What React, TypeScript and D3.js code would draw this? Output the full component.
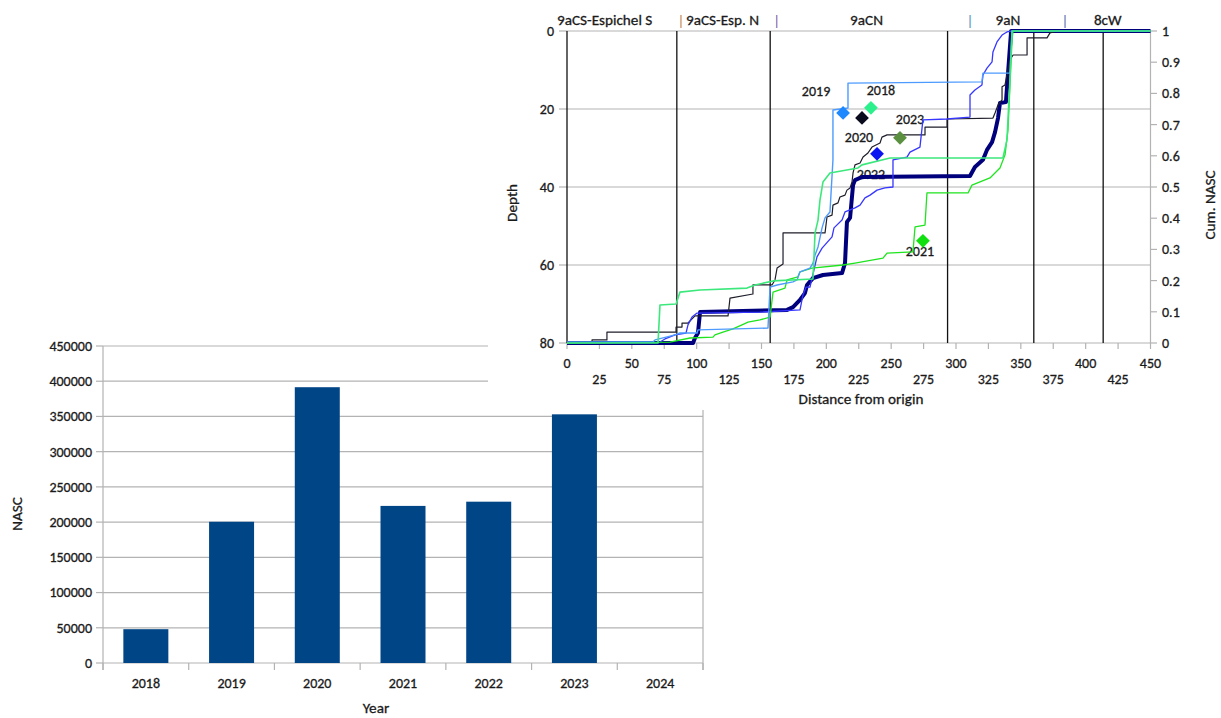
import React from "react";
import * as d3 from "d3";

// ---------- Bar chart data ----------
const barYears = ["2018", "2019", "2020", "2021", "2022", "2023", "2024"];
const barNASC: (number | null)[] = [48000, 200500, 391500, 223000, 229000, 353000, null];
const barTicks = [0, 50000, 100000, 150000, 200000, 250000, 300000, 350000, 400000, 450000];

// ---------- Cumulative NASC lines: [distance, cum. NASC] ----------
const cum2023: [number, number][] = [
  [0, 0], [97.2, 0], [98.7, 0.016], [101, 0.032], [102.6, 0.099], [169.7, 0.106], [174.3, 0.115],
  [179.7, 0.138], [183.5, 0.16], [185.1, 0.186], [189.7, 0.208], [197.4, 0.218], [212.1, 0.224],
  [214.4, 0.256], [215.9, 0.388], [218.3, 0.401], [220.6, 0.506], [222.1, 0.522], [227.5, 0.532],
  [310.8, 0.535], [314.6, 0.564], [320.8, 0.587], [323.9, 0.619], [327.8, 0.644], [330.1, 0.676],
  [332.4, 0.721], [333.9, 0.769], [338.5, 0.772], [342.5, 1], [450, 1],
];
const cum2020: [number, number][] = [
  [0, 0.003], [19.3, 0.003], [19.3, 0.01], [30.8, 0.01], [30.8, 0.035], [84.1, 0.035], [84.1, 0.051],
  [88.7, 0.051], [88.7, 0.064], [93.3, 0.064], [98.7, 0.087], [124.2, 0.087], [125.7, 0.144],
  [143.4, 0.157], [143.4, 0.186], [158.1, 0.186], [160.4, 0.202], [162, 0.24], [166.6, 0.253],
  [166.6, 0.353], [199, 0.353], [200.5, 0.404], [204.4, 0.41], [205.1, 0.442], [209, 0.449],
  [210.5, 0.468], [214.4, 0.474], [215.9, 0.49], [218.3, 0.497], [219.8, 0.516], [220.6, 0.545],
  [222.1, 0.571], [226, 0.577], [228.3, 0.596], [232.1, 0.609], [235.2, 0.628], [241.4, 0.641],
  [242.9, 0.66], [246.8, 0.667], [276.1, 0.667], [276.1, 0.692], [293.1, 0.692], [293.1, 0.718],
  [328.5, 0.721], [330.1, 0.737], [332.4, 0.763], [335.5, 0.779], [335.5, 0.821], [337.8, 0.827],
  [339.3, 0.859], [341.6, 0.907], [344, 0.923], [354.8, 0.923], [354.8, 0.978], [370.2, 0.978],
  [372.5, 0.994], [377.9, 1], [450, 1],
];
const cum2022: [number, number][] = [
  [0, 0], [71.7, 0.003], [75.6, 0.013], [83.3, 0.026], [91.8, 0.032], [93.3, 0.058], [96.4, 0.083],
  [100.3, 0.096], [148.8, 0.099], [179.7, 0.106], [182, 0.154], [184.3, 0.179], [187.4, 0.179],
  [192.8, 0.276], [196.7, 0.304], [204.4, 0.34], [205.9, 0.369], [212.1, 0.394], [214.4, 0.42],
  [222.1, 0.433], [226, 0.442], [229.8, 0.465], [233.7, 0.474], [239.1, 0.49], [245.2, 0.497],
  [251.4, 0.5], [251.4, 0.587], [262.2, 0.596], [264.5, 0.612], [272.2, 0.628], [274.5, 0.715],
  [293.1, 0.718], [310.8, 0.724], [310.8, 0.795], [314.6, 0.811], [320, 0.827], [320.8, 0.859],
  [323.9, 0.881], [327.8, 0.901], [328.5, 0.933], [331.6, 0.965], [335.5, 0.987], [339.3, 0.997],
  [343.2, 1], [450, 1],
];
const cum2021: [number, number][] = [
  [0, 0], [79.4, 0.003], [94.9, 0.016], [112.6, 0.019], [114.1, 0.026], [120.3, 0.035], [128, 0.045],
  [135, 0.058], [139.6, 0.067], [148.8, 0.074], [156.6, 0.083], [158.9, 0.163], [168.1, 0.176],
  [169.7, 0.202], [178.1, 0.212], [179.7, 0.228], [188.9, 0.24], [212.9, 0.25], [222.1, 0.256],
  [243.7, 0.272], [246.8, 0.288], [266.8, 0.292], [268.4, 0.372], [276.1, 0.378], [277.6, 0.481],
  [309.3, 0.481], [312.3, 0.506], [326.2, 0.529], [333.9, 0.561], [337.8, 0.603], [340.1, 0.683],
  [343.2, 0.971], [344, 1], [450, 1],
];
const cum2019: [number, number][] = [
  [0, 0.003], [66.3, 0.003], [67.9, 0.01], [83.3, 0.026], [87.1, 0.032], [100.3, 0.032], [101, 0.042],
  [155, 0.048], [156.6, 0.179], [162, 0.186], [174.3, 0.196], [177.4, 0.202], [179.7, 0.228],
  [187.4, 0.24], [189.7, 0.256], [191.3, 0.282], [193.6, 0.308], [196.7, 0.369], [199, 0.401],
  [202.8, 0.42], [205.1, 0.587], [205.1, 0.747], [216.7, 0.753], [216.7, 0.833], [320, 0.837],
  [320.8, 0.865], [341.6, 0.865], [343.2, 1], [450, 1],
];
const cum2018: [number, number][] = [
  [0, 0], [70.2, 0], [71.7, 0.122], [84.1, 0.125], [87.1, 0.163], [102.6, 0.17], [138.8, 0.176],
  [145, 0.186], [158.9, 0.199], [189.7, 0.205], [191.3, 0.353], [193.6, 0.394], [195.1, 0.458],
  [197.4, 0.516], [202.8, 0.545], [224.4, 0.561], [227.5, 0.571], [249.1, 0.593], [336.2, 0.593],
  [339.3, 0.651], [341.6, 0.843], [343.2, 1], [450, 1],
];

// ---------- Centre-of-gravity markers: distance, depth ----------
const markerYears = ["2019", "2018", "2020", "2023", "2022", "2021"];
const markerDistance = [212.9, 234.4, 227.5, 256.8, 239.1, 274.5];
const markerDepth = [21.0, 19.7, 22.3, 27.4, 31.5, 53.8];

// ---------- Axes ----------
const depthTicks = [0, 20, 40, 60, 80];
const cumTicks = [0, 0.1, 0.2, 0.3, 0.4, 0.5, 0.6, 0.7, 0.8, 0.9, 1];
const cumTickLabels = ["0", "0.1", "0.2", "0.3", "0.4", "0.5", "0.6", "0.7", "0.8", "0.9", "1"];
const distTicks = d3.range(0, 451, 25);
const areaBoundaries = [0, 84.7, 156.7, 293.5, 360, 413.5];
const areaNames = ["9aCS-Espichel S", "9aCS-Esp. N", "9aCN", "9aN", "8cW"];

// styles
const FONT = "Carlito, Lato, 'Liberation Sans', sans-serif";
const FS_NUM = 14;
const FS_TXT = 15.2;
const TXT = "#1a1a1a";
const GRID = "#b3b3b3";

const lineStyles = [
  { data: cum2023, color: "#00007c", width: 4 },
  { data: cum2020, color: "#1e1e2a", width: 1.2 },
  { data: cum2022, color: "#3636ff", width: 1.3 },
  { data: cum2021, color: "#1ee41e", width: 1.3 },
  { data: cum2019, color: "#4d9bff", width: 1.4 },
  { data: cum2018, color: "#3ce87c", width: 1.6 },
];
const markerColors = ["#1e88ff", "#2cf08c", "#0b0b1e", "#5a9040", "#0a14f0", "#10e010"];
const labelOffsets = [[-27, -22], [10, -18], [-3, 19], [10, -19], [-6, 20], [-3, 10]];

export default function App() {
  // ----- bar chart scales -----
  const xB = d3.scaleBand<string>().domain(barYears).range([103, 703]).paddingInner(0.475).paddingOuter(0.2375);
  const yB = d3.scaleLinear().domain([0, 450000]).range([663, 346]);
  const step = 600 / barYears.length;

  // ----- line chart scales -----
  const xL = d3.scaleLinear().domain([0, 450]).range([567, 1150.5]);
  const yD = d3.scaleLinear().domain([0, 80]).range([31, 343]);
  const yC = d3.scaleLinear().domain([0, 1]).range([343, 31]);
  const line = d3.line<[number, number]>().x((d) => xL(d[0])).y((d) => yC(d[1]));
  const diamond = d3.symbol().type(d3.symbolSquare).size(95)();

  return (
    <svg width={1221} height={718} style={{ position: "absolute", left: 0, top: 0, background: "#fff" }}
      fontFamily={FONT} fontSize={FS_NUM} stroke="none">
      <rect width={1221} height={718} fill="#fff" />
      {/* ================= BAR CHART ================= */}
      {barTicks.map((t) => (
        <g key={"bg" + t}>
          <line x1={103} x2={703} y1={yB(t)} y2={yB(t)} stroke={GRID} strokeWidth={1.2} />
          <line x1={96} x2={103} y1={yB(t)} y2={yB(t)} stroke={GRID} strokeWidth={1.2} />
        </g>
      ))}
      <line x1={103} x2={103} y1={346} y2={670} stroke={GRID} strokeWidth={1.2} />
      <line x1={703} x2={703} y1={346} y2={670} stroke={GRID} strokeWidth={1.2} />
      {d3.range(barYears.length + 1).map((i) => (
        <line key={"bt" + i} x1={103 + i * step} x2={103 + i * step} y1={663} y2={670} stroke={GRID} strokeWidth={1.2} />
      ))}
      {barYears.map((yr, i) => (
        barNASC[i] != null ? (
          <rect key={"bar" + yr} x={xB(yr)} y={yB(barNASC[i] as number)} width={xB.bandwidth()}
            height={yB(0) - yB(barNASC[i] as number)} fill="#004586" />
        ) : null
      ))}
      <g fill={TXT} stroke={TXT} strokeWidth={0.3}>
        {barTicks.map((t) => (
          <text key={"bl" + t} x={92} y={yB(t)} dy="0.35em" textAnchor="end">{t}</text>
        ))}
        {barYears.map((yr) => (
          <text key={"bx" + yr} x={(xB(yr) as number) + xB.bandwidth() / 2} y={688} textAnchor="middle">{yr}</text>
        ))}
        <text transform="translate(22,514) rotate(-90)" textAnchor="middle" fontSize={FS_TXT}>NASC</text>
        <text x={376} y={713} textAnchor="middle" fontSize={FS_TXT}>Year</text>
      </g>

      {/* ================= LINE CHART PANEL ================= */}
      <rect x={488} y={0} width={733} height={410} fill="#fff" />
      {depthTicks.map((t) => (
        <g key={"dg" + t}>
          <line x1={567} x2={1150.5} y1={yD(t)} y2={yD(t)} stroke={GRID} strokeWidth={1.2} />
          <line x1={559} x2={567} y1={yD(t)} y2={yD(t)} stroke={GRID} strokeWidth={1.2} />
        </g>
      ))}
      <line x1={1150.5} x2={1150.5} y1={31} y2={343} stroke={GRID} strokeWidth={1.2} />
      {cumTicks.map((t, i) => (
        <line key={"ct" + i} x1={1150.5} x2={1157} y1={yC(t)} y2={yC(t)} stroke={GRID} strokeWidth={1.2} />
      ))}
      {distTicks.map((t) => (
        <line key={"xt" + t} x1={xL(t)} x2={xL(t)} y1={343} y2={349} stroke={GRID} strokeWidth={1.2} />
      ))}
      {areaBoundaries.map((b) => (
        <line key={"ab" + b} x1={xL(b)} x2={xL(b)} y1={31} y2={343} stroke="#111" strokeWidth={1.3} />
      ))}

      {/* marker labels (drawn beneath the lines) */}
      {markerYears.map((yr, i) => (
        <text key={"ml" + yr} x={xL(markerDistance[i]) + labelOffsets[i][0]} y={yD(markerDepth[i]) + labelOffsets[i][1]}
          dy="0.35em" textAnchor="middle" fill={TXT} stroke={TXT} strokeWidth={0.3}>{yr}</text>
      ))}

      {/* lines */}
      {lineStyles.map((s, i) => (
        <path key={"ln" + i} d={line(s.data) as string} fill="none" stroke={s.color} strokeWidth={s.width}
          strokeLinejoin="round" />
      ))}

      <g fill={TXT} stroke={TXT} strokeWidth={0.3}>
        {depthTicks.map((t) => (
          <text key={"dl" + t} x={554} y={yD(t)} dy="0.35em" textAnchor="end">{t}</text>
        ))}
        {cumTicks.map((t, i) => (
          <text key={"cl" + i} x={1162} y={yC(t)} dy="0.35em">{cumTickLabels[i]}</text>
        ))}
        {distTicks.map((t, i) => (
          <text key={"xl" + t} x={xL(t)} y={i % 2 === 0 ? 368 : 384} textAnchor="middle">{t}</text>
        ))}
        <g fontSize={FS_TXT}>
          <text x={557} y={25}>{areaNames[0]}</text>
          <text x={686} y={25}>{areaNames[1]}</text>
          <text x={xL(231)} y={25} textAnchor="middle">{areaNames[2]}</text>
          <text x={xL(340)} y={25} textAnchor="middle">{areaNames[3]}</text>
          <text x={xL(417)} y={25} textAnchor="middle">{areaNames[4]}</text>
          <text transform="translate(517,203) rotate(-90)" textAnchor="middle">Depth</text>
          <text transform="translate(1215,205) rotate(-90)" textAnchor="middle">Cum. NASC</text>
          <text x={861} y={404} textAnchor="middle">Distance from origin</text>
        </g>
      </g>
      <g fontSize={15}>
        <text x={xL(87.9)} y={26} textAnchor="middle" fill="#c08040">|</text>
        <text x={xL(161.7)} y={26} textAnchor="middle" fill="#7a5aa0">|</text>
        <text x={xL(310.8)} y={26} textAnchor="middle" fill="#4a90b8">|</text>
        <text x={xL(384)} y={26} textAnchor="middle" fill="#5060b0">|</text>
      </g>

      {/* markers */}
      {markerYears.map((yr, i) => (
        <path key={"mk" + yr} d={diamond as string}
          transform={`translate(${xL(markerDistance[i])},${yD(markerDepth[i])}) rotate(45)`} fill={markerColors[i]} />
      ))}
    </svg>
  );
}
